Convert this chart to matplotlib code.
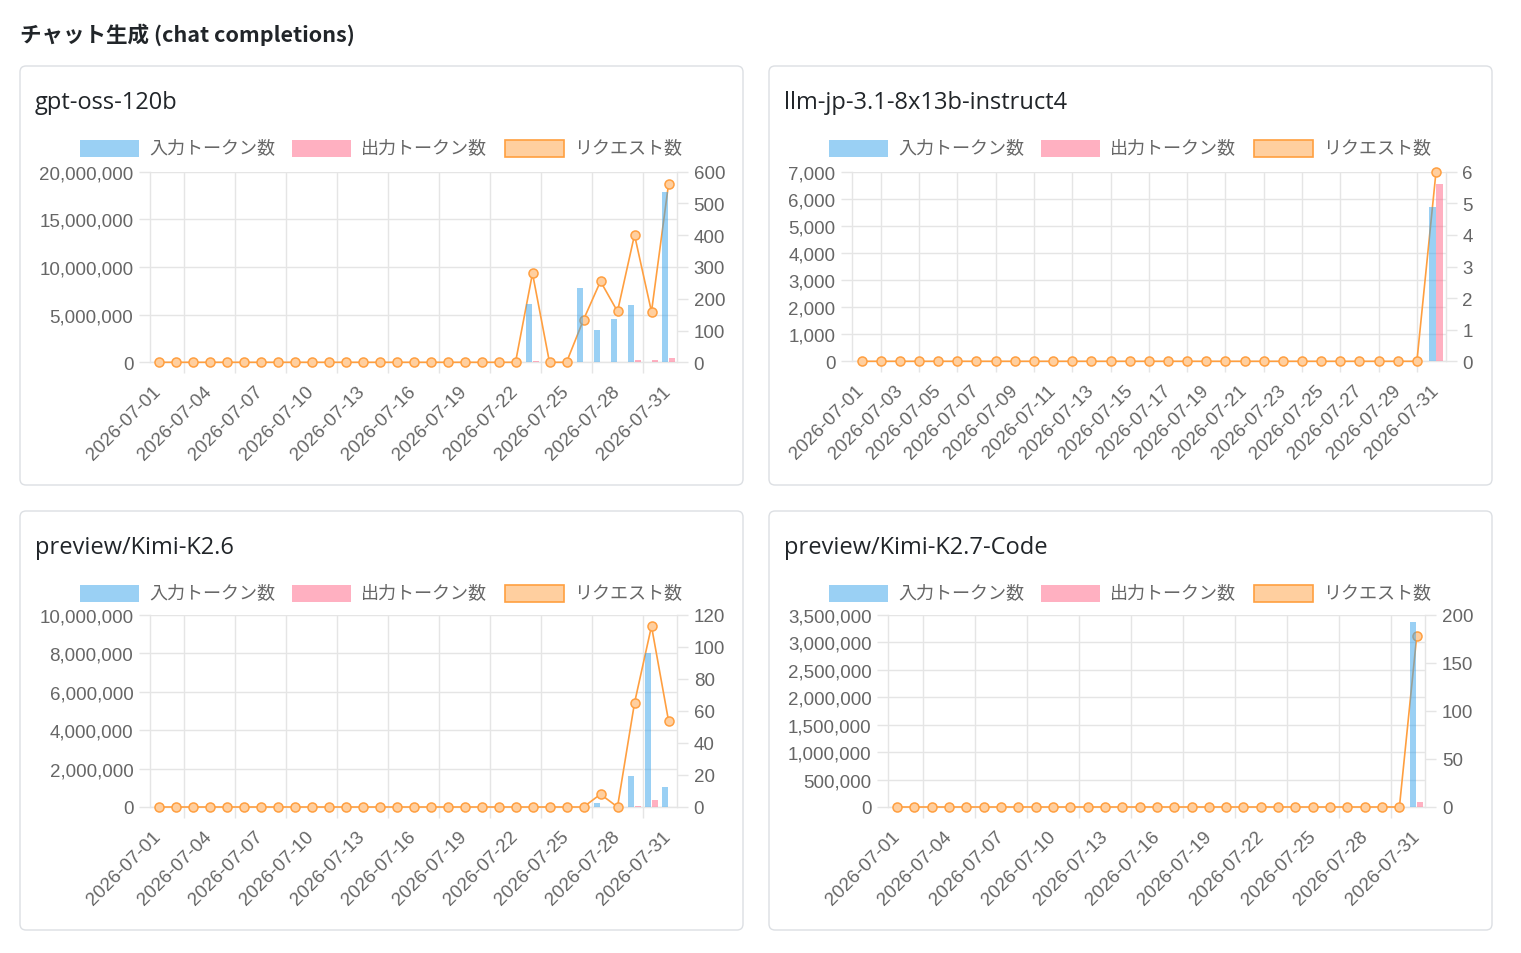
import matplotlib
matplotlib.use("Agg")
import matplotlib.pyplot as plt
import matplotlib.transforms as mtransforms
from matplotlib.patches import FancyBboxPatch, Rectangle
import numpy as np

plt.rcParams['font.family'] = ['Liberation Sans', 'Noto Sans CJK JP']

# ---- data ----
dates = [f"2026-07-{d:02d}" for d in range(1, 32)]

titles = ["gpt-oss-120b", "llm-jp-3.1-8x13b-instruct4",
          "preview/Kimi-K2.6", "preview/Kimi-K2.7-Code"]
legend_labels = ["入力トークン数", "出力トークン数", "リクエスト数"]

gpt_in = [0, 0, 0, 0, 0, 0, 0, 0, 0, 0, 0, 0, 0, 0, 0, 0, 0, 0, 0, 0, 0, 0,
          6100000, 0, 0, 7750000, 3400000, 4550000, 6000000, 0, 17900000]
gpt_out = [0, 0, 0, 0, 0, 0, 0, 0, 0, 0, 0, 0, 0, 0, 0, 0, 0, 0, 0, 0, 0, 0,
           180000, 0, 0, 40000, 80000, 50000, 220000, 220000, 450000]
gpt_req = [0, 0, 0, 0, 0, 0, 0, 0, 0, 0, 0, 0, 0, 0, 0, 0, 0, 0, 0, 0, 0, 0,
           280, 0, 0, 134, 255, 160, 401, 159, 560]

llm_in = [0, 0, 0, 0, 0, 0, 0, 0, 0, 0, 0, 0, 0, 0, 0, 0, 0, 0, 0, 0, 0, 0,
          0, 0, 0, 0, 0, 0, 0, 0, 5700]
llm_out = [0, 0, 0, 0, 0, 0, 0, 0, 0, 0, 0, 0, 0, 0, 0, 0, 0, 0, 0, 0, 0, 0,
           0, 0, 0, 0, 0, 0, 0, 0, 6560]
llm_req = [0, 0, 0, 0, 0, 0, 0, 0, 0, 0, 0, 0, 0, 0, 0, 0, 0, 0, 0, 0, 0, 0,
           0, 0, 0, 0, 0, 0, 0, 0, 6]

k26_in = [0, 0, 0, 0, 0, 0, 0, 0, 0, 0, 0, 0, 0, 0, 0, 0, 0, 0, 0, 0, 0, 0,
          0, 0, 0, 0, 190000, 0, 1630000, 8000000, 1060000]
k26_out = [0, 0, 0, 0, 0, 0, 0, 0, 0, 0, 0, 0, 0, 0, 0, 0, 0, 0, 0, 0, 0, 0,
           0, 0, 0, 0, 20000, 0, 30000, 360000, 20000]
k26_req = [0, 0, 0, 0, 0, 0, 0, 0, 0, 0, 0, 0, 0, 0, 0, 0, 0, 0, 0, 0, 0, 0,
           0, 0, 0, 0, 8, 0, 65, 113, 54]

k27_in = [0, 0, 0, 0, 0, 0, 0, 0, 0, 0, 0, 0, 0, 0, 0, 0, 0, 0, 0, 0, 0, 0,
          0, 0, 0, 0, 0, 0, 0, 0, 3370000]
k27_out = [0, 0, 0, 0, 0, 0, 0, 0, 0, 0, 0, 0, 0, 0, 0, 0, 0, 0, 0, 0, 0, 0,
           0, 0, 0, 0, 0, 0, 0, 0, 100000]
k27_req = [0, 0, 0, 0, 0, 0, 0, 0, 0, 0, 0, 0, 0, 0, 0, 0, 0, 0, 0, 0, 0, 0,
           0, 0, 0, 0, 0, 0, 0, 0, 178]

left_max = [20000000, 7000, 10000000, 3500000]
left_step = [5000000, 1000, 2000000, 500000]
right_max = [600, 6, 120, 200]
right_step = [100, 1, 20, 50]
label_every = [3, 2, 3, 3]

series = [(gpt_in, gpt_out, gpt_req), (llm_in, llm_out, llm_req),
          (k26_in, k26_out, k26_req), (k27_in, k27_out, k27_req)]

# ---- layout (pixels, top-left origin) ----
W, H = 1521, 954
cards = [(20, 67, 743, 486), (769, 67, 1492, 486),
         (20, 512, 743, 931), (769, 512, 1492, 931)]
areas = [(150, 172.7, 677, 363.3), (852, 172.7, 1445.6, 362.3),
         (150, 616, 677, 808), (888.3, 616, 1425.4, 808)]

BLUE = (54 / 255, 162 / 255, 235 / 255, 0.5)
PINK = (1.0, 99 / 255, 132 / 255, 0.5)
ORANGE = '#FF9F40'
ORANGE_L = '#FFCF9F'
GRID = '#e5e5e5'
TXT = '#666666'

fig = plt.figure(figsize=(W / 100, H / 100), dpi=100)
pix = mtransforms.IdentityTransform()


def px(x, y):
    return x, H - y


fig.text(*px(20, 35), "チャット生成 (chat completions)", transform=pix,
         fontsize=15.5, fontweight='bold', va='center', ha='left',
         family=['Noto Sans CJK JP'], color='#212529')

x = np.arange(31)
fmt = matplotlib.ticker.FuncFormatter(lambda v, p: f"{int(round(v)):,}")

for i in range(4):
    cl, ct, cr, cb = cards[i]
    card = FancyBboxPatch(px(cl, cb), cr - cl, cb - ct,
                          boxstyle="round,pad=0,rounding_size=6",
                          transform=pix, facecolor='white',
                          edgecolor='#dcdfe3', lw=1.0, zorder=-10)
    fig.add_artist(card)
    fig.text(*px(cl + 15, ct + 36), titles[i], transform=pix, fontsize=17,
             va='center', ha='left', family=['Open Sans'], color='#212529')

    # legend
    cx = (cl + cr) / 2
    ly = ct + 82
    lefts = [cx - 301.5, cx - 89.5, cx + 123.5]
    fills = [BLUE, PINK, ORANGE_L]
    edges = ['none', 'none', ORANGE]
    for j in range(3):
        r = Rectangle(px(lefts[j], ly + 8.5), 59, 17, transform=pix,
                      facecolor=fills[j], edgecolor=edges[j], lw=1.2)
        fig.add_artist(r)
        fig.text(*px(lefts[j] + 69, ly), legend_labels[j], transform=pix,
                 fontsize=13, va='center', ha='left', color=TXT)

    al, at, ar, ab = areas[i]
    ax = fig.add_axes([al / W, 1 - ab / H, (ar - al) / W, (ab - at) / H])
    ax.patch.set_visible(False)
    ax2 = ax.twinx()
    inp, outp, req = series[i]

    # request line (under the bars, like the original)
    ax.plot(x, req, color=ORANGE, lw=1.2, marker='o', ms=6.5,
            mfc=ORANGE_L, mec=ORANGE, mew=1.1, clip_on=False, zorder=3)
    ax.set_xlim(-0.5, 30.5)
    ax.set_ylim(0, right_max[i])
    ax.yaxis.tick_right()
    ax.set_yticks(np.arange(0, right_max[i] + right_step[i] / 2, right_step[i]))
    ax.yaxis.set_major_formatter(fmt)
    ax.tick_params(axis='y', length=8, width=1, color=GRID, labelcolor=TXT,
                   labelsize=13.5, pad=4)

    # grid
    nl = int(round(left_max[i] / left_step[i]))
    for k in range(nl + 1):
        f = k / nl
        ax.plot([0, 1], [f, f], transform=ax.transAxes, color=GRID, lw=1,
                zorder=0)
    step = label_every[i]
    label_pos = list(range(0, 31, step))
    grid_pos = [p - step / 2 for p in label_pos[1:]]
    for g in grid_pos:
        ax.axvline(g, color=GRID, lw=1, zorder=0)
    ax.set_xticks(grid_pos)
    ax.set_xticklabels([])
    ax.tick_params(axis='x', which='major', length=8, width=1, color=GRID)
    ax.set_xticks(label_pos, minor=True)
    ax.set_xticklabels([dates[p] for p in label_pos], minor=True, rotation=45,
                       ha='right', va='center', rotation_mode='anchor')
    ax.tick_params(axis='x', which='minor', length=0, pad=19, labelsize=13.5,
                   labelcolor=TXT)

    for s in ['left', 'right', 'bottom']:
        ax.spines[s].set_color(GRID)
        ax.spines[s].set_linewidth(1)
    ax.spines['top'].set_visible(False)

    # token bars
    ax2.bar(x - 0.2, inp, width=0.36, color=BLUE, lw=0, zorder=2)
    ax2.bar(x + 0.2, outp, width=0.36, color=PINK, lw=0, zorder=2)
    ax2.set_ylim(0, left_max[i])
    ax2.yaxis.tick_left()
    ax2.set_yticks(np.arange(0, left_max[i] + left_step[i] / 2, left_step[i]))
    ax2.yaxis.set_major_formatter(fmt)
    ax2.tick_params(axis='y', length=8, width=1, color=GRID, labelcolor=TXT,
                    labelsize=13.5, pad=4)
    for s in ax2.spines.values():
        s.set_visible(False)

fig.savefig("out.png", dpi=100)
